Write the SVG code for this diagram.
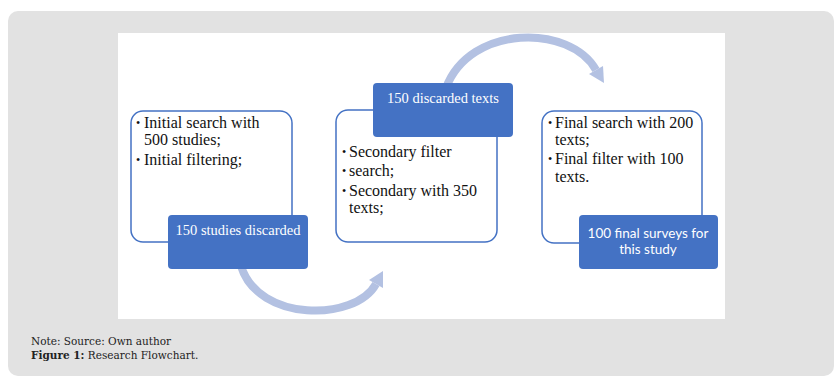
<svg xmlns="http://www.w3.org/2000/svg" width="840" height="383" viewBox="0 0 840 383">
<defs>
<style>
.panel{fill:#e2e2e2}
.card{fill:#ffffff;stroke:#4472c4;stroke-width:1.5}
.tag{fill:#4472c4}
.body{font-family:"Liberation Serif","Times New Roman",serif;font-size:16px;fill:#111}
.bul{font-family:"Liberation Serif","Times New Roman",serif;font-size:12px;fill:#111}
.tagt{font-family:"Liberation Serif","Times New Roman",serif;font-size:14.5px;fill:#ffffff;text-anchor:middle}
.tags{font-family:Lato,"Liberation Sans",sans-serif;font-size:13.5px;fill:#ffffff;text-anchor:middle}
.arc{fill:none;stroke:#b3c1e2;stroke-width:8}
.head{fill:#b3c1e2}
.cap{font-family:"DejaVu Serif",serif;font-size:10.5px;fill:#222}
</style>
</defs>
<rect class="panel" x="8" y="11" width="826" height="365" rx="10"/>
<rect x="118" y="33" width="607" height="286" fill="#ffffff"/>
<g id="connectors">
<path class="arc" d="M 446 88 C 470 24, 570 24, 596 70"/>
<polygon class="head" points="603,66 589,74 604,83"/>
<path class="arc" d="M 241 266 C 258 322, 355 322, 376 284"/>
<polygon class="head" points="383,288 369,280 383,271"/>
</g>
<g id="node1">
<rect class="card" x="131" y="111" width="161" height="131" rx="12"/>
<text class="bul" x="136" y="127">•</text>
<text class="body" x="144" y="128">Initial search with</text>
<text class="body" x="144" y="145">500 studies;</text>
<text class="bul" x="136" y="164">•</text>
<text class="body" x="144" y="165">Initial filtering;</text>
</g>
<g id="tag1">
<rect class="tag" x="168" y="215" width="140" height="54" rx="4"/>
<text class="tagt" x="238" y="235">150 studies discarded</text>
</g>
<g id="node2">
<rect class="card" x="336" y="110" width="161" height="132" rx="12"/>
<text class="bul" x="342" y="156">•</text>
<text class="body" x="349" y="157">Secondary filter</text>
<text class="bul" x="342" y="175">•</text>
<text class="body" x="349" y="176">search;</text>
<text class="bul" x="342" y="195">•</text>
<text class="body" x="349" y="196">Secondary with 350</text>
<text class="body" x="349" y="213">texts;</text>
</g>
<g id="tag2">
<rect class="tag" x="373" y="83" width="140" height="54" rx="4"/>
<text class="tagt" x="443" y="103">150 discarded texts</text>
</g>
<g id="node3">
<rect class="card" x="542" y="111" width="160" height="132" rx="12"/>
<text class="bul" x="548" y="127">•</text>
<text class="body" x="555" y="128">Final search with 200</text>
<text class="body" x="555" y="145">texts;</text>
<text class="bul" x="548" y="163">•</text>
<text class="body" x="555" y="164">Final filter with 100</text>
<text class="body" x="555" y="182">texts.</text>
</g>
<g id="tag3">
<rect class="tag" x="579" y="215" width="139" height="54" rx="4"/>
<text class="tags" x="648" y="238">100 final surveys for</text>
<text class="tags" x="648" y="254">this study</text>
</g>
<g id="caption">
<text class="cap" x="31" y="345">Note: Source: Own author</text>
<text class="cap" x="31" y="359"><tspan font-weight="bold">Figure 1:</tspan> Research Flowchart.</text>
</g>
</svg>
